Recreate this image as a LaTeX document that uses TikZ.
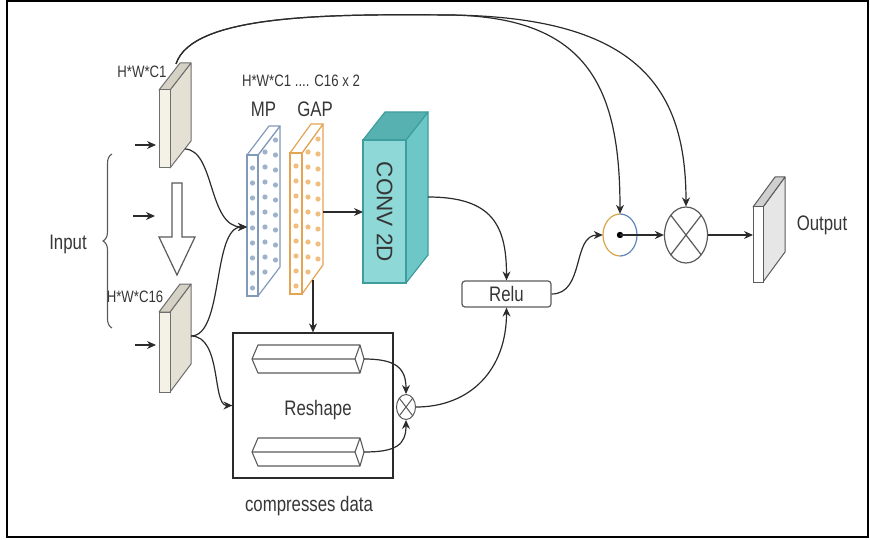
\documentclass[tikz,border=0pt]{standalone}
\usepackage{fontspec}
\setmainfont{Liberation Sans}[FakeStretch=0.8]
\newfontfamily\rotfont{Liberation Sans}
\usetikzlibrary{arrows.meta,decorations.pathreplacing,shapes.geometric,calc}
\definecolor{textgray}{HTML}{363636}
\definecolor{linecol}{HTML}{2B2B2B}
\definecolor{edgegray}{HTML}{5A5A5A}
\definecolor{slabF}{HTML}{F4F1E6}
\definecolor{slabS}{HTML}{E4E0D3}
\definecolor{slabT}{HTML}{D5D1C4}
\definecolor{slabE}{HTML}{6E6E6E}
\definecolor{mpE}{HTML}{829AB9}
\definecolor{mpD}{HTML}{9FB2CB}
\definecolor{gapE}{HTML}{E3A454}
\definecolor{gapD}{HTML}{F0BE7E}
\definecolor{convF}{HTML}{8ED8D8}
\definecolor{convS}{HTML}{6DC7C7}
\definecolor{convT}{HTML}{58B1B1}
\definecolor{convE}{HTML}{3E9E9E}
\definecolor{outS}{HTML}{E6E6E6}
\definecolor{outT}{HTML}{CFCFCF}
\definecolor{odotO}{HTML}{D9A448}
\definecolor{odotB}{HTML}{5F86B8}
\begin{document}
\begin{tikzpicture}[x=1pt,y=-1pt,
  conn/.style={draw=linecol, line width=1.2pt, -{Stealth[length=9pt,width=8pt]}},
  lbl/.style={text=textgray, inner sep=0pt, anchor=base, font=\fontsize{21}{25}\selectfont},
  smalllbl/.style={text=textgray, inner sep=0pt, anchor=base, font=\fontsize{16.5}{20}\selectfont},
  opcirc/.style={ellipse, draw=edgegray, line width=1.2pt, fill=white, inner sep=0pt}
]
\useasboundingbox (0,0) rectangle (870,540);
% frame
\draw[line width=2pt, black] (7,1) rectangle (868,537);

% ---------- input slabs ----------
\filldraw[draw=slabE, fill=slabS, line width=1pt, line join=round] (170,90) -- (191,63) -- (191,141) -- (170,168) -- cycle;
\filldraw[draw=slabE, fill=slabT, line width=1pt, line join=round] (159,90) -- (180,63) -- (191,63) -- (170,90) -- cycle;
\filldraw[draw=slabE, fill=slabF, line width=1pt] (159,90) rectangle (170,168);

\filldraw[draw=slabE, fill=slabS, line width=1pt, line join=round] (170,312) -- (191,284) -- (191,364) -- (170,392) -- cycle;
\filldraw[draw=slabE, fill=slabT, line width=1pt, line join=round] (159,312) -- (180,284) -- (191,284) -- (170,312) -- cycle;
\filldraw[draw=slabE, fill=slabF, line width=1pt] (159,312) rectangle (170,392);

\node[smalllbl] (lc1) at (142,78) {H*W*C1};
\node[smalllbl] (lc16) at (135,302) {H*W*C16};

% hollow down arrow
\draw[draw=edgegray, fill=white, line width=1.2pt, line join=miter] (172,183) -- (182,183) -- (182,237) -- (195,237) -- (177,275) -- (159,237) -- (172,237) -- cycle;

% input arrows
\coordinate (a1s) at (135,145); \coordinate (a1e) at (156,145);
\coordinate (a2s) at (133,216); \coordinate (a2e) at (155,216);
\coordinate (a3s) at (135,345); \coordinate (a3e) at (156,345);
\draw[conn] (a1s) -- (a1e);
\draw[conn] (a2s) -- (a2e);
\draw[conn] (a3s) -- (a3e);

% brace and Input
\coordinate (brb) at (112,328); \coordinate (brt) at (112,154);
\draw[draw=edgegray, line width=1.1pt, decorate, decoration={brace, amplitude=9pt}] (brb) -- (brt);
\node[lbl] (input) at (68,249) {Input};

% ---------- MP slab ----------
\filldraw[draw=mpE, fill=white, line width=1.2pt, line join=round] (258,155) -- (280,126) -- (280,267) -- (258,296) -- cycle;
\filldraw[draw=mpE, fill=white, line width=1.2pt, line join=round] (247,155) -- (269,126) -- (280,126) -- (258,155) -- cycle;
\filldraw[draw=mpE, fill=white, line width=1.2pt] (247,155) rectangle (258,296);
\foreach \k in {0,...,8} {
  \fill[mpD] (252.5,168+15*\k) circle (2.6);
  \fill[mpD] (265,152+15*\k) circle (2.6);
  \fill[mpD] (275.5,140+15*\k) circle (2.6);
}
% ---------- GAP slab ----------
\filldraw[draw=gapE, fill=white, line width=1.2pt, line join=round] (302,153) -- (323,124) -- (323,265) -- (302,294) -- cycle;
\filldraw[draw=gapE, fill=white, line width=1.2pt, line join=round] (290,153) -- (311,124) -- (323,124) -- (302,153) -- cycle;
\filldraw[draw=gapE, fill=white, line width=1.2pt] (290,153) rectangle (302,294);
\foreach \k in {0,...,8} {
  \fill[gapD] (296,166+15*\k) circle (2.6);
  \fill[gapD] (308,152+15*\k) circle (2.6);
  \fill[gapD] (318,139+15*\k) circle (2.6);
}
\node[smalllbl] (ltop) at (301,87) {H*W*C1 .... C16 x 2};
\node[lbl] (mp) at (263.5,117) {MP};
\node[lbl] (gap) at (315,117) {GAP};

% ---------- CONV 2D ----------
\filldraw[draw=convE, fill=convS, line width=1.2pt, line join=round] (406,140) -- (428,112) -- (428,255) -- (406,283) -- cycle;
\filldraw[draw=convE, fill=convT, line width=1.2pt, line join=round] (363,140) -- (385,112) -- (428,112) -- (406,140) -- cycle;
\filldraw[draw=convE, fill=convF, line width=1.2pt] (363,140) rectangle (406,283);
\node[text=textgray, inner sep=0pt, rotate=-90, font=\rotfont\fontsize{22.5}{26}\selectfont] (conv) at (384.5,212) {CONV 2D};

% ---------- compress box ----------
\node[draw=linecol, line width=1.2pt, minimum width=160pt, minimum height=145pt, inner sep=0pt] (cbox) at (313,405.5) {};
\node[lbl] (reshape) at (318,415) {Reshape};
\node[lbl] (cdata) at (309,511) {compresses data};
% bars
\draw[draw=edgegray, line width=1.1pt, line join=round] (258,345) -- (360,345) -- (364,359) -- (360,373) -- (258,373) -- (252,359) -- cycle;
\draw[draw=edgegray, line width=1.1pt] (252,359) -- (355,359) (360,345) -- (355,359) -- (360,373);
\draw[draw=edgegray, line width=1.1pt, line join=round] (258,438) -- (360,438) -- (364,452) -- (360,466) -- (258,466) -- (252,452) -- cycle;
\draw[draw=edgegray, line width=1.1pt] (252,452) -- (355,452) (360,438) -- (355,452) -- (360,466);
\coordinate (bar1end) at (364,359);
\coordinate (bar2end) at (364,452);
% small otimes
\node[opcirc, minimum width=19pt, minimum height=25pt, line width=1pt] (sox) at (406,407) {};
\draw[draw=edgegray, line width=1pt] ($(sox.center)+(-6.7,-8.8)$) -- ($(sox.center)+(6.7,8.8)$);
\draw[draw=edgegray, line width=1pt] ($(sox.center)+(-6.7,8.8)$) -- ($(sox.center)+(6.7,-8.8)$);

% ---------- Relu ----------
\node[draw=edgegray, line width=1.2pt, rounded corners=3pt, minimum width=89pt, minimum height=26pt, inner sep=0pt, text=textgray, font=\fontsize{21}{25}\selectfont] (relu) at (506.5,294) {Relu};

% ---------- odot, otimes ----------
\node[ellipse, draw=none, fill=white, minimum width=34pt, minimum height=42pt, inner sep=0pt] (odot) at (620,235) {};
\draw[draw=odotO, line width=1.2pt] (620,214) arc[start angle=-90, end angle=-270, x radius=17, y radius=21];
\draw[draw=odotB, line width=1.2pt] (620,214) arc[start angle=-90, end angle=90, x radius=17, y radius=21];
\fill[black] (odot.center) circle (3.2);
\node[opcirc, minimum width=43pt, minimum height=56pt] (otimes) at (686,235) {};
\draw[draw=edgegray, line width=1.2pt] ($(otimes.center)+(-15.2,-19.8)$) -- ($(otimes.center)+(15.2,19.8)$);
\draw[draw=edgegray, line width=1.2pt] ($(otimes.center)+(-15.2,19.8)$) -- ($(otimes.center)+(15.2,-19.8)$);

% ---------- Output slab ----------
\filldraw[draw=edgegray, fill=outS, line width=1pt, line join=round] (763,207) -- (785,177) -- (785,252) -- (763,282) -- cycle;
\filldraw[draw=edgegray, fill=outT, line width=1pt, line join=round] (753,207) -- (775,177) -- (785,177) -- (763,207) -- cycle;
\filldraw[draw=edgegray, fill=white, line width=1pt] (753,207) rectangle (763,282);
\coordinate (outin) at (753,235);
\node[lbl] (output) at (822,231) {Output};

% ---------- connectors ----------
\coordinate (s1out) at (185,149);
\coordinate (s2out) at (191,336);
\coordinate (mpin) at (247,227);
\coordinate (gapout) at (323,212);
\coordinate (convin) at (363,212);
\coordinate (gapbot) at (313,280);
\coordinate (convout) at (428,197);
\coordinate (s1top) at (176,64);
\coordinate (split) at (450,15);

\draw[conn] (s1out) .. controls (215,150) and (208,227) .. (mpin);
\draw[conn] (s2out) .. controls (224,336) and (212,227) .. (mpin);
\draw[conn] (s2out) .. controls (222,336) and (212,405.5) .. (cbox.west);
\draw[conn] (gapout) -- (convin);
\draw[conn] (gapbot) -- (cbox.north);
\draw[conn] (convout) .. controls (492,197) and (506.5,225) .. (relu.north);
\draw[conn] (bar1end) .. controls (396,359) and (406,368) .. (sox.north);
\draw[conn] (bar2end) .. controls (396,452) and (406,445) .. (sox.south);
\draw[conn] (sox.east) .. controls (470,407) and (506.5,370) .. (relu.south);
\draw[conn] (relu.east) .. controls (585,294) and (572,235) .. (odot.west);
\draw[conn] (odot.center) -- (otimes.west);
\draw[conn] (otimes.east) -- (outin);
\draw[conn] (s1top) .. controls (192,14) and (330,14) .. (split) .. controls (590,17) and (620,90) .. (odot.north);
\draw[conn] (s1top) .. controls (192,14) and (330,14) .. (split) .. controls (640,17) and (686,90) .. (otimes.north);
\end{tikzpicture}
\end{document}
